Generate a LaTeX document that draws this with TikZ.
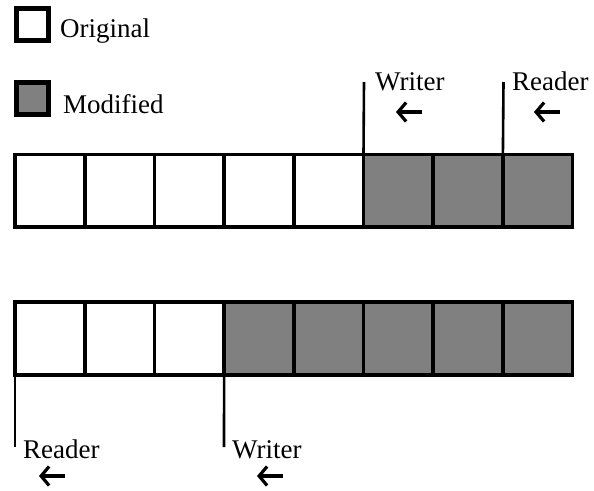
\documentclass[tikz,border=0pt]{standalone}
\usepackage{fontspec}
\setmainfont{Liberation Serif}
\usetikzlibrary{arrows.meta}
\begin{document}
\begin{tikzpicture}[x=1pt,y=-1pt,
  cell/.style={draw=black,line width=3.6pt},
  orig/.style={cell,fill=white},
  modf/.style={cell,fill=gray50},
  legendbox/.style={draw=black,line width=4.6pt},
  ptr/.style={draw=black,line width=2.6pt},
  lbl/.style={anchor=base west,inner sep=0pt,font=\fontsize{27}{32}\selectfont},
  arr/.style={draw=black,line width=3.2pt,-{Straight Barb[length=8pt,width=19pt]}}]
\definecolor{gray50}{HTML}{808080}
\useasboundingbox (0,0) rectangle (594,490);
% legend
\node[legendbox,fill=white,minimum width=32pt,minimum height=32pt,inner sep=0pt] (lo) at (32.5,24.5) {};
\node[lbl] (lot) at (60,37) {Original};
\node[legendbox,fill=gray50,minimum width=32pt,minimum height=32pt,inner sep=0pt] (lm) at (32.5,98.5) {};
\node[lbl] (lmt) at (63,113) {Modified};
% top row
\foreach \i in {0,...,7}{
  \pgfmathsetmacro{\xa}{15+\i*69.7}
  \pgfmathsetmacro{\xb}{15+(\i+1)*69.7}
  \ifnum\i<5
    \path[orig] (\xa,154.5) rectangle (\xb,227);
  \else
    \path[modf] (\xa,154.5) rectangle (\xb,227);
  \fi
  \coordinate (t\i) at (\xa,154.5);
}
% bottom row
\foreach \i in {0,...,7}{
  \pgfmathsetmacro{\xa}{15+\i*69.7}
  \pgfmathsetmacro{\xb}{15+(\i+1)*69.7}
  \ifnum\i<3
    \path[orig] (\xa,302) rectangle (\xb,375);
  \else
    \path[modf] (\xa,302) rectangle (\xb,375);
  \fi
  \coordinate (b\i) at (\xa,375);
}
% top pointers
\coordinate (tw) at (364,82);
\coordinate (tr) at (503.5,82);
\draw[ptr] (tw) -- (t5);
\draw[ptr] (tr) -- (t7);
\node[lbl] (twl) at (375,90) {Writer};
\node[lbl] (trl) at (512,90) {Reader};
\coordinate (twa1) at (422,112);
\coordinate (twa2) at (396,112);
\coordinate (tra1) at (560,112);
\coordinate (tra2) at (534,112);
\draw[arr] (twa1) -- (twa2);
\draw[arr] (tra1) -- (tra2);
% bottom pointers
\coordinate (br) at (15,447);
\coordinate (bw) at (224,447);
\draw[ptr] (b0) -- (br);
\draw[ptr] (b3) -- (bw);
\node[lbl] (brl) at (23,458) {Reader};
\node[lbl] (bwl) at (232,458) {Writer};
\coordinate (bra1) at (65,476);
\coordinate (bra2) at (39,476);
\coordinate (bwa1) at (283,476);
\coordinate (bwa2) at (257,476);
\draw[arr] (bra1) -- (bra2);
\draw[arr] (bwa1) -- (bwa2);
\end{tikzpicture}
\end{document}
